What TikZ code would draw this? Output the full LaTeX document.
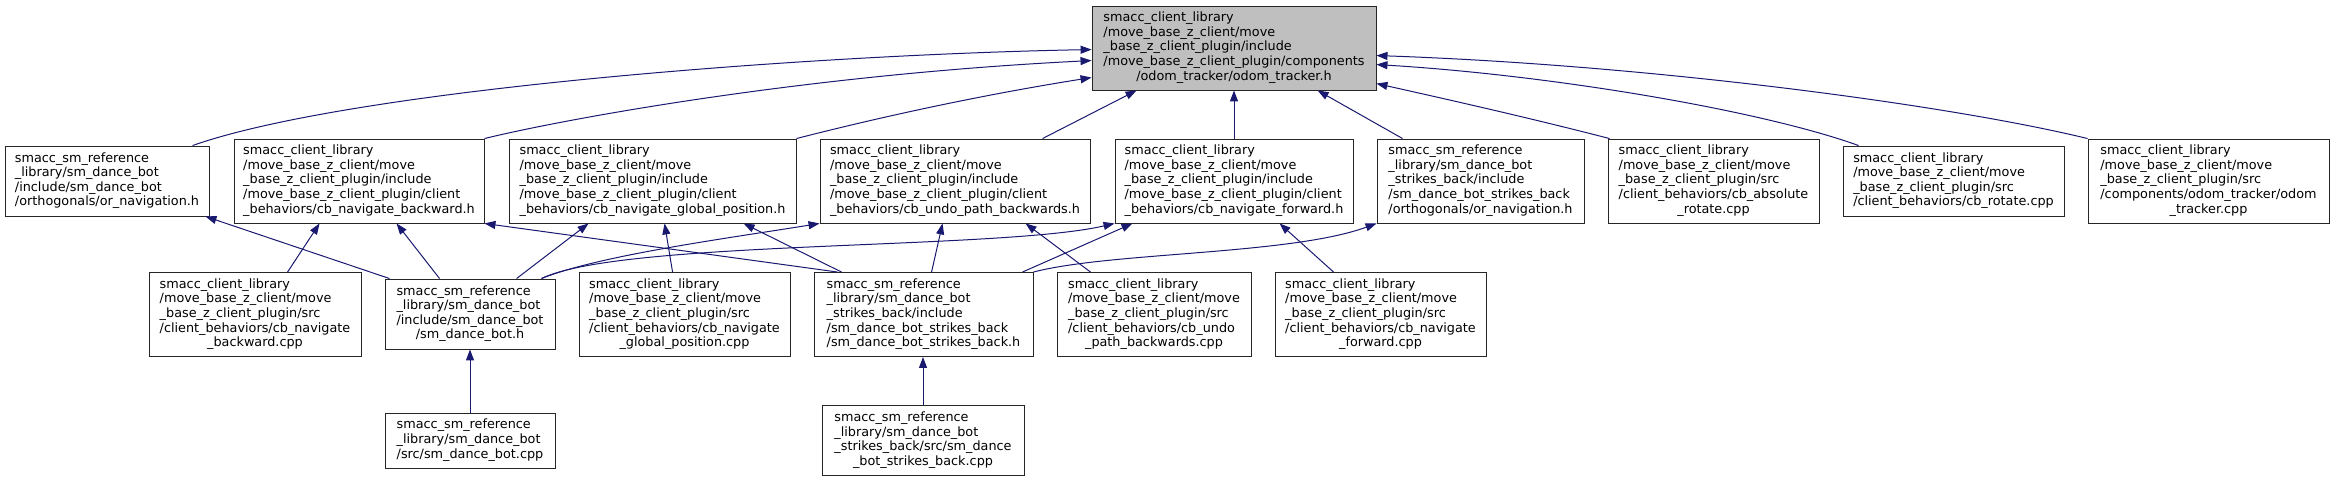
\documentclass[tikz,border=0pt]{standalone}
\usepackage{fontspec}
\setmainfont{DejaVu Sans}
\usetikzlibrary{arrows.meta,calc}
\definecolor{edgeblue}{HTML}{191970}
\definecolor{maingray}{HTML}{BFBFBF}
\newcommand{\dxc}[1]{\multicolumn{1}{@{}c@{}}{#1}}
\newcommand{\tb}[1]{\begin{tabular}{@{}l@{}}#1\end{tabular}}
\begin{document}
\begin{tikzpicture}[x=1pt,y=-1pt,font=\fontsize{12.8pt}{14.6pt}\selectfont,
  dbox/.style={draw=black!85, line width=0.9pt, fill=white, inner sep=0pt, align=center},
  dep/.style={draw=edgeblue, line width=1pt, -{Triangle[length=11pt,width=8pt]}}]
\useasboundingbox (0,0) rectangle (2334,481);
% main
\node[dbox, fill=maingray, minimum width=284pt, minimum height=84pt] (m) at (1234,48)
 {\tb{smacc\_client\_library\\/move\_base\_z\_client/move\\\_base\_z\_client\_plugin/include\\/move\_base\_z\_client\_plugin/components\\\dxc{/odom\_tracker/odom\_tracker.h}}};
% middle row
\node[dbox, minimum width=204pt, minimum height=70pt] (n1) at (107,181)
 {\tb{smacc\_sm\_reference\\\_library/sm\_dance\_bot\\/include/sm\_dance\_bot\\/orthogonals/or\_navigation.h}};
\node[dbox, minimum width=250pt, minimum height=84pt] (n2) at (359,181)
 {\tb{smacc\_client\_library\\/move\_base\_z\_client/move\\\_base\_z\_client\_plugin/include\\/move\_base\_z\_client\_plugin/client\\\_behaviors/cb\_navigate\_backward.h}};
\node[dbox, minimum width=287pt, minimum height=84pt] (n3) at (652.5,181)
 {\tb{smacc\_client\_library\\/move\_base\_z\_client/move\\\_base\_z\_client\_plugin/include\\/move\_base\_z\_client\_plugin/client\\\_behaviors/cb\_navigate\_global\_position.h}};
\node[dbox, minimum width=270pt, minimum height=84pt] (n4) at (955,181)
 {\tb{smacc\_client\_library\\/move\_base\_z\_client/move\\\_base\_z\_client\_plugin/include\\/move\_base\_z\_client\_plugin/client\\\_behaviors/cb\_undo\_path\_backwards.h}};
\node[dbox, minimum width=238pt, minimum height=84pt] (n5) at (1234,181)
 {\tb{smacc\_client\_library\\/move\_base\_z\_client/move\\\_base\_z\_client\_plugin/include\\/move\_base\_z\_client\_plugin/client\\\_behaviors/cb\_navigate\_forward.h}};
\node[dbox, minimum width=207pt, minimum height=84pt] (n6) at (1480.5,181)
 {\tb{smacc\_sm\_reference\\\_library/sm\_dance\_bot\\\_strikes\_back/include\\/sm\_dance\_bot\_strikes\_back\\/orthogonals/or\_navigation.h}};
\node[dbox, minimum width=211pt, minimum height=84pt] (n7) at (1713.5,181)
 {\tb{smacc\_client\_library\\/move\_base\_z\_client/move\\\_base\_z\_client\_plugin/src\\/client\_behaviors/cb\_absolute\\\dxc{\_rotate.cpp}}};
\node[dbox, minimum width=221pt, minimum height=70pt] (n8) at (1953.5,181)
 {\tb{smacc\_client\_library\\/move\_base\_z\_client/move\\\_base\_z\_client\_plugin/src\\/client\_behaviors/cb\_rotate.cpp}};
\node[dbox, minimum width=241pt, minimum height=84pt] (n9) at (2208.5,181)
 {\tb{smacc\_client\_library\\/move\_base\_z\_client/move\\\_base\_z\_client\_plugin/src\\/components/odom\_tracker/odom\\\dxc{\_tracker.cpp}}};
% bottom rows
\node[dbox, minimum width=212pt, minimum height=84pt] (b1) at (255,314.5)
 {\tb{smacc\_client\_library\\/move\_base\_z\_client/move\\\_base\_z\_client\_plugin/src\\/client\_behaviors/cb\_navigate\\\dxc{\_backward.cpp}}};
\node[dbox, minimum width=170pt, minimum height=70pt] (b2) at (470,314)
 {\tb{smacc\_sm\_reference\\\_library/sm\_dance\_bot\\/include/sm\_dance\_bot\\\dxc{/sm\_dance\_bot.h}}};
\node[dbox, minimum width=211pt, minimum height=84pt] (b3) at (684.5,314.5)
 {\tb{smacc\_client\_library\\/move\_base\_z\_client/move\\\_base\_z\_client\_plugin/src\\/client\_behaviors/cb\_navigate\\\dxc{\_global\_position.cpp}}};
\node[dbox, minimum width=219pt, minimum height=84pt] (b5) at (923.5,314.5)
 {\tb{smacc\_sm\_reference\\\_library/sm\_dance\_bot\\\_strikes\_back/include\\/sm\_dance\_bot\_strikes\_back\\/sm\_dance\_bot\_strikes\_back.h}};
\node[dbox, minimum width=194pt, minimum height=84pt] (b6) at (1154,314.5)
 {\tb{smacc\_client\_library\\/move\_base\_z\_client/move\\\_base\_z\_client\_plugin/src\\/client\_behaviors/cb\_undo\\\dxc{\_path\_backwards.cpp}}};
\node[dbox, minimum width=211pt, minimum height=84pt] (b7) at (1380.5,314.5)
 {\tb{smacc\_client\_library\\/move\_base\_z\_client/move\\\_base\_z\_client\_plugin/src\\/client\_behaviors/cb\_navigate\\\dxc{\_forward.cpp}}};
\node[dbox, minimum width=170pt, minimum height=55pt] (b4) at (470,440.5)
 {\tb{smacc\_sm\_reference\\\_library/sm\_dance\_bot\\/src/sm\_dance\_bot.cpp}};
\node[dbox, minimum width=202pt, minimum height=70pt] (b8) at (923,440.5)
 {\tb{smacc\_sm\_reference\\\_library/sm\_dance\_bot\\\_strikes\_back/src/sm\_dance\\\dxc{\_bot\_strikes\_back.cpp}}};
% edges to main
\draw[dep] ($(n1.north west)+(188,0)$) .. controls (350,90) and (800,55) .. ($(m.north west)+(0,44)$);
\draw[dep] (n2.north east) .. controls (560,120) and (800,75) .. ($(m.north west)+(0,55)$);
\draw[dep] (n3.north east) .. controls (900,112) and (1000,92) .. ($(m.north west)+(0,72)$);
\draw[dep] ($(n4.north west)+(223,0)$) -- ($(m.south west)+(45,0)$);
\draw[dep] (n5.north) -- (m.south);
\draw[dep] ($(n6.north west)+(26,0)$) -- ($(m.south west)+(226,0)$);
\draw[dep] ($(n7.north west)+(2,0)$) .. controls (1530,118) and (1450,100) .. ($(m.north east)+(0,78)$);
\draw[dep] ($(n8.north west)+(16,0)$) .. controls (1760,110) and (1550,75) .. ($(m.north east)+(0,59)$);
\draw[dep] (n9.north west) .. controls (1950,105) and (1650,65) .. ($(m.north east)+(0,50)$);
% second level
\draw[dep] ($(b2.north west)+(5,0)$) -- ($(n1.south east)+(-4,0)$);
\draw[dep] ($(b1.north west)+(139,0)$) -- ($(n2.south west)+(86,0)$);
\draw[dep] ($(b2.north west)+(55,0)$) -- ($(n2.south west)+(163,0)$);
\draw[dep] ($(b5.north west)+(24,0)$) -- (n2.south east);
\draw[dep] ($(b2.north west)+(132,0)$) -- ($(n3.south west)+(80,0)$);
\draw[dep] ($(b3.north west)+(94,0)$) -- ($(n3.south west)+(156,0)$);
\draw[dep] ($(b5.north west)+(28,0)$) -- ($(n3.south west)+(235,0)$);
\draw[dep] ($(b2.north east)+(-14,0)$) .. controls (600,255) and (730,238) .. (n4.south west);
\draw[dep] ($(b2.north east)+(-14,0)$) .. controls (620,240) and (1000,250) .. (n5.south west);
\draw[dep] ($(b5.north west)+(118,0)$) -- ($(n4.south west)+(123,0)$);
\draw[dep] ($(b6.north west)+(34,0)$) -- ($(n4.south west)+(206,0)$);
\draw[dep] ($(b5.north east)+(-11,0)$) -- ($(n5.south west)+(18,0)$);
\draw[dep] ($(b7.north west)+(59,0)$) -- ($(n5.south west)+(165,0)$);
\draw[dep] (b5.north east) .. controls (1110,252) and (1290,255) .. (n6.south west);
\draw[dep] (b4.north) -- (b2.south);
\draw[dep] (b8.north) -- ($(b5.south)+(-0.5,0)$);
\end{tikzpicture}
\end{document}
